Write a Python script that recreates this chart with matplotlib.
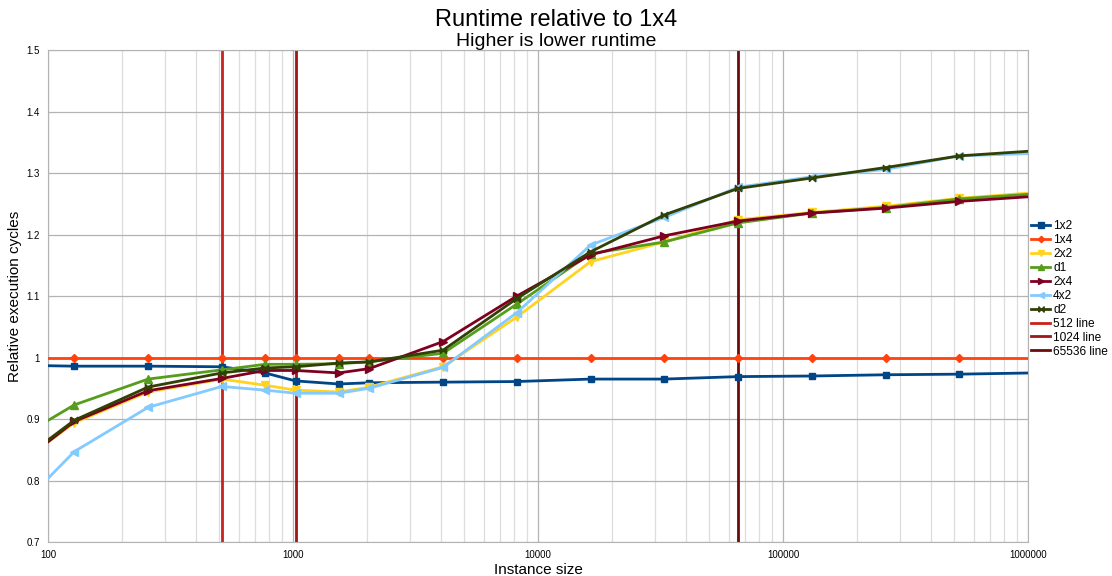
"""Runtime relative to 1x4, recreated with matplotlib."""

import matplotlib
matplotlib.use("Agg")
import matplotlib.pyplot as plt
from matplotlib.ticker import FuncFormatter, LogLocator, NullFormatter

plt.rcParams["font.family"] = ["Liberation Sans", "DejaVu Sans"]

# Instance sizes (powers of two, plus 768 and 1536)
sizes = [64, 128, 256, 512, 768, 1024, 1536, 2048, 4096, 8192, 16384,
         32768, 65536, 131072, 262144, 524288, 1048576]

v_1x2 = [0.988, 0.986, 0.986, 0.985, 0.975, 0.962, 0.957, 0.959, 0.960, 0.961,
         0.965, 0.965, 0.969, 0.970, 0.972, 0.973, 0.975]
v_1x4 = [1.0] * len(sizes)
v_2x2 = [0.806, 0.894, 0.944, 0.965, 0.955, 0.947, 0.944, 0.952, 0.985, 1.066,
         1.156, 1.188, 1.224, 1.236, 1.246, 1.259, 1.268]
v_d1 = [0.852, 0.923, 0.965, 0.980, 0.989, 0.989, 0.990, 0.993, 1.007, 1.087,
        1.169, 1.188, 1.219, 1.235, 1.244, 1.258, 1.266]
v_2x4 = [0.803, 0.896, 0.946, 0.966, 0.979, 0.979, 0.975, 0.982, 1.026, 1.100,
         1.167, 1.198, 1.222, 1.235, 1.243, 1.254, 1.262]
v_4x2 = [0.725, 0.847, 0.919, 0.953, 0.947, 0.942, 0.942, 0.950, 0.984, 1.073,
         1.183, 1.228, 1.277, 1.294, 1.306, 1.328, 1.332]
v_d2 = [0.808, 0.898, 0.952, 0.975, 0.983, 0.985, 0.991, 0.993, 1.012, 1.096,
        1.172, 1.232, 1.275, 1.292, 1.309, 1.328, 1.336]

series_names = ["1x2", "1x4", "2x2", "d1", "2x4", "4x2", "d2"]
series_values = [v_1x2, v_1x4, v_2x2, v_d1, v_2x4, v_4x2, v_d2]

# marker styles per series (d2 gets a sideways bowtie)
bowtie = [(-1, -1), (1, 1), (1, -1), (-1, 1), (-1, -1)]
styles = {
    "1x2": dict(color="#004586", marker="s", ms=5),
    "1x4": dict(color="#ff420e", marker="D", ms=3.8),
    "2x2": dict(color="#ffd320", marker="v", ms=5.5),
    "d1": dict(color="#579d1c", marker="^", ms=5.5),
    "2x4": dict(color="#7e0021", marker=">", ms=5.5),
    "4x2": dict(color="#83caff", marker="<", ms=5.5),
    "d2": dict(color="#314004", marker=bowtie, ms=4.5),
}

vlines = [512, 1024, 65536]
vline_names = ["512 line", "1024 line", "65536 line"]
vline_colors = ["#c9211e", "#a01515", "#6b0c0c"]

fig = plt.figure(figsize=(11.12, 5.76), dpi=100)
ax = fig.add_axes([0.0432, 0.059, 0.8813, 0.854])

for name, vals in zip(series_names, series_values):
    st = styles[name]
    ax.plot(sizes, vals, color=st["color"], marker=st["marker"], markersize=st["ms"],
            linewidth=2, label=name, zorder=3)

for x, name, c in zip(vlines, vline_names, vline_colors):
    ax.axvline(x, color=c, linewidth=2, label=name, zorder=2)

ax.set_xscale("log")
ax.set_xlim(100, 1000000)
ax.set_ylim(0.7, 1.5)
ax.set_yticks([0.7, 0.8, 0.9, 1.0, 1.1, 1.2, 1.3, 1.4, 1.5])
ax.yaxis.set_major_formatter(FuncFormatter(lambda v, _: f"{v:g}"))
ax.xaxis.set_major_locator(LogLocator(base=10, numticks=10))
ax.xaxis.set_minor_locator(LogLocator(base=10, subs=range(2, 10), numticks=100))
ax.xaxis.set_major_formatter(FuncFormatter(lambda v, _: f"{int(round(v))}"))
ax.xaxis.set_minor_formatter(NullFormatter())

ax.grid(True, which="major", color="#b3b3b3", linewidth=0.9, zorder=0)
ax.grid(True, which="minor", axis="x", color="#dddddd", linewidth=0.9, zorder=0)
ax.set_axisbelow(True)
for sp in ax.spines.values():
    sp.set_color("#b3b3b3")
ax.tick_params(which="both", length=0, labelsize=7, pad=6)

ax.set_xlabel("Instance size", fontsize=11, labelpad=2)
ax.set_ylabel("Relative execution cycles", fontsize=11, labelpad=3)

fig.text(0.5, 0.966, "Runtime relative to 1x4", ha="center", va="center", fontsize=17)
fig.text(0.5, 0.928, "Higher is lower runtime", ha="center", va="center", fontsize=14)

ax.legend(loc="upper left", bbox_to_anchor=(1.003, 0.654), frameon=False,
          fontsize=8.6, handlelength=1.6, handletextpad=0.25, labelspacing=0.16,
          borderaxespad=0.0, borderpad=0.0, markerscale=0.85)

fig.savefig("out.png", dpi=100)
